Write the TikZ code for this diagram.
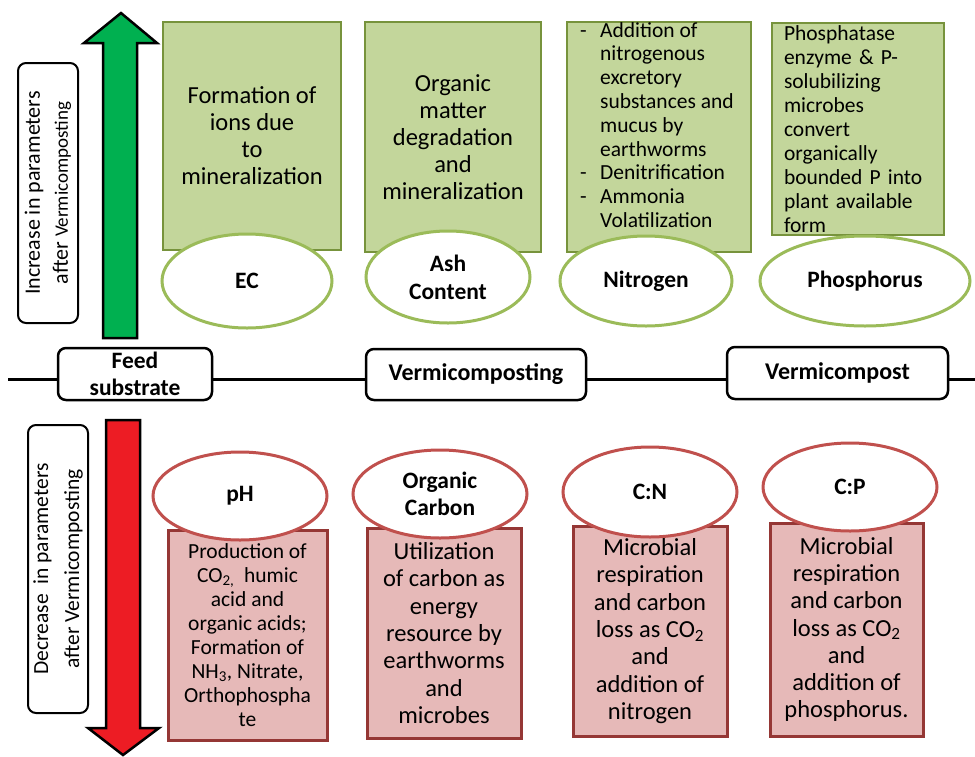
\documentclass[tikz,border=0pt]{standalone}
\usepackage{fontspec}
\setmainfont{Carlito}
\usetikzlibrary{shapes.geometric}
\definecolor{gfill}{HTML}{C3D69B}
\definecolor{gdraw}{HTML}{77933C}
\definecolor{gring}{HTML}{9BBB59}
\definecolor{rfill}{HTML}{E6B9B8}
\definecolor{rdraw}{HTML}{953735}
\definecolor{rring}{HTML}{C0504D}
\definecolor{upgreen}{HTML}{00B050}
\definecolor{downred}{HTML}{ED1C24}
\newcommand\itemdash{\makebox[20pt][l]{-}}
\newcommand\itemind{\hspace*{20pt}}
\begin{document}
\begin{tikzpicture}[x=1pt,y=-1pt,
  gbox/.style={draw=gdraw, fill=gfill, line width=2.5pt, inner sep=0pt, align=center,
    font=\fontsize{24.5}{27}\selectfont},
  gring/.style={ellipse, draw=gring, fill=white, line width=3pt, inner sep=0pt, align=center,
    font=\bfseries\fontsize{23.5}{28}\selectfont},
  rbox/.style={draw=rdraw, fill=rfill, line width=3pt, inner sep=0pt, align=center,
    font=\fontsize{24.5}{27.3}\selectfont},
  rring/.style={ellipse, draw=rring, fill=white, line width=3pt, inner sep=0pt, align=center,
    font=\bfseries\fontsize{23.5}{27}\selectfont},
  stage/.style={draw=black, fill=white, rounded corners=8pt, line width=2.5pt, inner sep=0pt,
    align=center, font=\bfseries\fontsize{23.5}{27}\selectfont},
  sidebox/.style={draw=black, fill=white, rounded corners=8pt, line width=2pt, inner sep=0pt,
    rotate=90, align=center, font=\fontsize{22}{28}\selectfont},
  axis/.style={line width=3pt, draw=black},
  bigarrow/.style={draw=black, line width=2.5pt, line join=miter}
]
\useasboundingbox (0,0) rectangle (975,756);

% direction arrows
\draw[bigarrow, fill=upgreen] (103,338) -- (103,43) -- (84,43) -- (121,13) -- (157,43)
  -- (137,43) -- (137,338) -- cycle;
\draw[bigarrow, fill=downred] (106,420) -- (140,420) -- (140,728) -- (159,728) -- (123,755)
  -- (88,728) -- (106,728) -- cycle;

% side labels
\node[sidebox, minimum width=260, minimum height=60] (incbox) at (48,193)
  {Increase in parameters\\after {\fontsize{19}{28}\selectfont Vermicomposting}};
\node[sidebox, minimum width=288, minimum height=60, font=\fontsize{21.5}{31}\selectfont]
  (decbox) at (58,569) {Decrease\ \ in parameters\\after Vermicomposting};

% process axis
\coordinate (lineL) at (8,379);
\coordinate (lineR) at (975,379);
\node[stage, minimum width=154, minimum height=52] (feed) at (135,374) {Feed\\substrate};
\node[stage, minimum width=220, minimum height=51, font=\bfseries\fontsize{24}{27}\selectfont]
  (vcing) at (476,374.5) {Vermicomposting};
\node[stage, minimum width=221, minimum height=52, font=\bfseries\fontsize{24}{27}\selectfont]
  (vcost) at (837.5,373) {Vermicompost};
\draw[axis] (lineL) -- (feed.west |- lineL);
\draw[axis] (feed.east |- lineL) -- (vcing.west |- lineL);
\draw[axis] (vcing.east |- lineL) -- (vcost.west |- lineL);
\draw[axis] (vcost.east |- lineL) -- (lineR);

% parameters that increase
\node[gbox, minimum width=178, minimum height=228] (ecbox) at (252,136)
  {Formation of\\ions due\\to\\mineralization};
\node[gbox, minimum width=176, minimum height=230] (ashbox) at (453,137)
  {Organic\\matter\\degradation\\and\\mineralization};
\node[gbox, minimum width=184, minimum height=230] (nbox) at (659,137) {};
\node[anchor=north west, inner sep=0pt, align=left, font=\fontsize{21.5}{23.8}\selectfont]
  (ntext) at (580,22)
  {\itemdash Addition of\\ \itemind nitrogenous\\ \itemind excretory\\ \itemind substances and\\
   \itemind mucus by\\ \itemind earthworms\\ \itemdash Denitrification\\ \itemdash Ammonia\\
   \itemind Volatilization};
\node[gbox, minimum width=172, minimum height=212, text width=148, inner xsep=12pt, align=left,
  font=\fontsize{21.5}{24}\selectfont] (pbox) at (858,129)
  {Phosphatase\\enzyme \& P-\\solubilizing\\microbes\\convert\\organically\\bounded P into\\
   plant available\\form};

\node[gring, minimum width=170, minimum height=94] (ec) at (247,281) {EC};
\node[gring, minimum width=164, minimum height=92] (ash) at (448,277) {Ash\\Content};
\node[gring, minimum width=172, minimum height=90] (nitro) at (646,281) {Nitrogen};
\node[gring, minimum width=210, minimum height=90] (phos) at (865,281) {Phosphorus};

% parameters that decrease
\node[rbox, minimum width=159, minimum height=210, font=\fontsize{21.5}{24}\selectfont]
  (phbox) at (247.5,635)
  {Production of\\CO\textsubscript{2,}\ \ humic\\acid and\\organic acids;\\Formation of\\
   NH\textsubscript{3}, Nitrate,\\Orthophospha\\te};
\node[rbox, minimum width=154, minimum height=210] (ocbox) at (444,633)
  {Utilization\\of carbon as\\energy\\resource by\\earthworms\\and\\microbes};
\node[rbox, minimum width=154, minimum height=210] (cnbox) at (650,631)
  {Microbial\\respiration\\and carbon\\loss as CO\textsubscript{2}\\and\\addition of\\nitrogen};
\node[rbox, minimum width=153, minimum height=213] (cpbox) at (846.5,629.5)
  {Microbial\\respiration\\and carbon\\loss as CO\textsubscript{2}\\and\\addition of\\phosphorus.};

\node[rring, minimum width=174, minimum height=88] (ph) at (240,496) {pH};
\node[rring, minimum width=174, minimum height=88] (oc) at (440,494) {Organic\\Carbon};
\node[rring, minimum width=174, minimum height=90] (cn) at (650,492) {C:N};
\node[rring, minimum width=174, minimum height=88] (cp) at (850,487) {C:P};
\end{tikzpicture}
\end{document}
